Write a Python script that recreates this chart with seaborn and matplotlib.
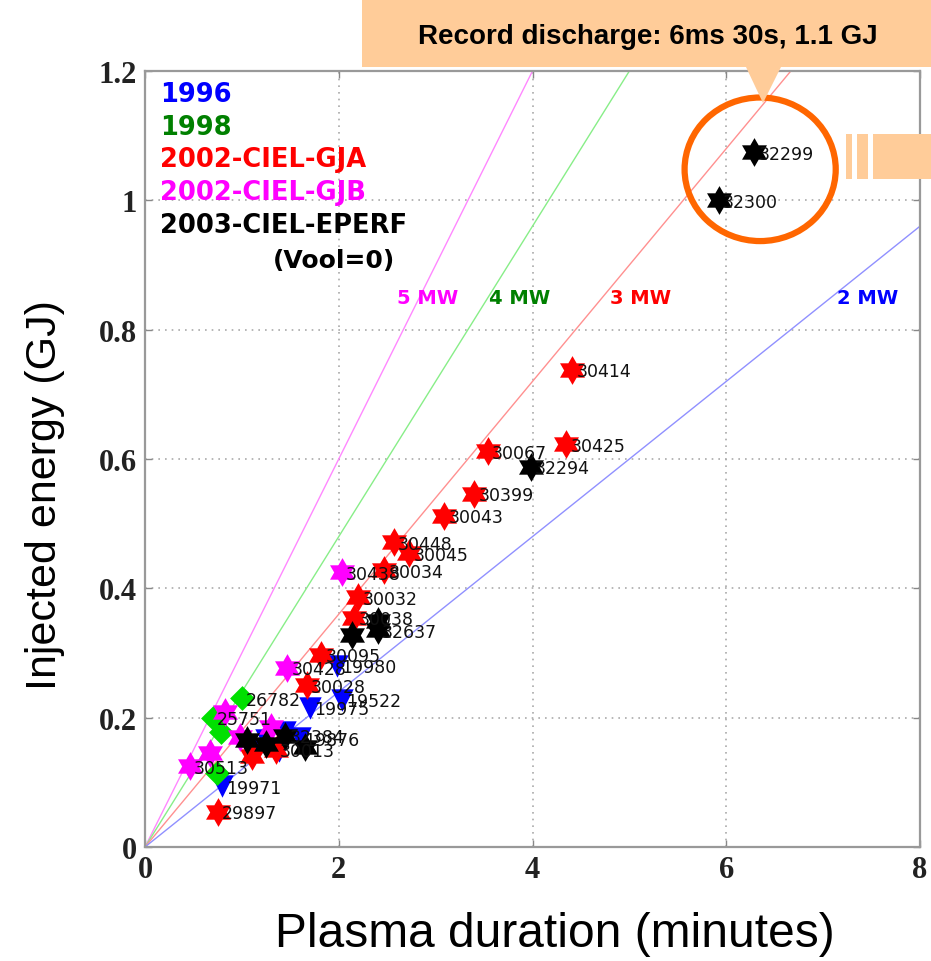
import matplotlib
matplotlib.use("Agg")
import matplotlib.pyplot as plt
from matplotlib.patches import Rectangle, Polygon, Ellipse
from matplotlib.path import Path
import seaborn as sns
import pandas as pd

# ---- Campaign data: plasma duration (min) vs injected energy (GJ) ----
t_1996 = [0.79, 1.70, 2.03, 1.98, 1.25, 1.45, 1.60, 1.15, 1.38]
e_1996 = [0.094, 0.215, 0.228, 0.280, 0.165, 0.178, 0.168, 0.150, 0.148]
lab_1996 = ["19971", "19975", "19522", "19980", "", "", "19876", "", ""]

t_1998 = [1.00, 0.70, 0.78, 0.74]
e_1998 = [0.230, 0.200, 0.178, 0.115]
lab_1998 = ["26782", "25751", "", ""]

t_gja = [4.41, 4.35, 3.54, 3.40, 3.09, 2.57, 2.73, 2.47, 2.20, 2.16,
         1.82, 1.67, 0.75, 1.35, 1.10]
e_gja = [0.738, 0.623, 0.612, 0.546, 0.512, 0.471, 0.454, 0.428, 0.386, 0.354,
         0.297, 0.250, 0.054, 0.150, 0.140]
lab_gja = ["30414", "30425", "30067", "30399", "30043", "30448", "30045", "30034",
           "30032", "30038", "30095", "30028", "29897", "30013", ""]

t_gjb = [2.03, 1.47, 0.83, 0.98, 0.67, 0.46, 1.30]
e_gjb = [0.425, 0.277, 0.208, 0.170, 0.146, 0.125, 0.185]
lab_gjb = ["30438", "30428", "", "", "", "30513", ""]

t_eperf = [6.29, 5.92, 3.98, 2.40, 2.40, 2.14, 1.25, 1.45, 1.65, 1.05]
e_eperf = [1.074, 1.000, 0.588, 0.350, 0.335, 0.328, 0.160, 0.172, 0.155, 0.165]
lab_eperf = ["32299", "32300", "32294", "", "32637", "", "", "32384", "", ""]

groups = ["1996", "1998", "2002-CIEL-GJA", "2002-CIEL-GJB", "2003-CIEL-EPERF"]
group_text_colors = ["#0000ff", "#008000", "#ff0000", "#ff00ff", "#000000"]
group_marker_colors = ["#0000ff", "#00e000", "#ff0000", "#ff00ff", "#000000"]

# constant-power reference lines (MW)
powers_mw = [5, 4, 3, 2]
power_colors = ["#ff88ff", "#88ee88", "#ff9090", "#9090ff"]
power_text_colors = ["#ff00ff", "#008000", "#ff0000", "#0000ff"]

x_ticks = [0, 2, 4, 6, 8]
y_ticks = [0, 0.2, 0.4, 0.6, 0.8, 1.0, 1.2]
y_tick_labels = ["0", "0.2", "0.4", "0.6", "0.8", "1", "1.2"]

frames = []
for g, t, e, lab in zip(groups,
                        [t_1996, t_1998, t_gja, t_gjb, t_eperf],
                        [e_1996, e_1998, e_gja, e_gjb, e_eperf],
                        [lab_1996, lab_1998, lab_gja, lab_gjb, lab_eperf]):
    frames.append(pd.DataFrame({"t": t, "E": e, "shot": lab, "group": g}))
df = pd.concat(frames, ignore_index=True)

sns.set_theme(style="white")
plt.rcParams["font.family"] = ["DejaVu Sans"]

W, H = 931, 962
fig = plt.figure(figsize=(W / 100, H / 100), dpi=100)
ax = fig.add_axes([145 / W, (H - 848) / H, (920 - 145) / W, (848 - 72) / H])
ax.set_xlim(0, 8)
ax.set_ylim(0, 1.2)

# dotted grid
for xv in x_ticks[1:-1]:
    ax.axvline(xv, color="#aaaaaa", ls=(0, (1, 3)), lw=1.2, zorder=0)
for yv in y_ticks[1:-1]:
    ax.axhline(yv, color="#aaaaaa", ls=(0, (1, 3)), lw=1.2, zorder=0)

# constant-power lines: E = P * 60 s * t
for p, c in zip(powers_mw, power_colors):
    slope = p * 60 / 1000.0
    ax.plot([0, 8], [0, 8 * slope], color=c, lw=1.0, zorder=1)

hexagram = Path.unit_regular_star(6, 0.577)
marker_map = {"1996": "v", "1998": "D", "2002-CIEL-GJA": hexagram,
              "2002-CIEL-GJB": hexagram, "2003-CIEL-EPERF": hexagram}
size_map = {"1996": 260, "1998": 160, "2002-CIEL-GJA": 430,
            "2002-CIEL-GJB": 430, "2003-CIEL-EPERF": 430}

for g, c in zip(groups, group_marker_colors):
    sub = df[df["group"] == g]
    sns.scatterplot(data=sub, x="t", y="E", color=c, marker=marker_map[g],
                    s=size_map[g], linewidth=0, ax=ax, zorder=3, legend=False)

for _, row in df.iterrows():
    if row["shot"]:
        ax.annotate(row["shot"], (row["t"], row["E"]), xytext=(3, -1),
                    textcoords="offset points", ha="left", va="center",
                    fontsize=12.5, color="#111111", zorder=4)

# campaign legend as coloured text
leg_y = [0.970, 0.928, 0.886, 0.844, 0.802]
for g, c, yy in zip(groups, group_text_colors, leg_y):
    ax.text(0.019, yy, g, transform=ax.transAxes, color=c, fontsize=18.5,
            fontweight="bold", va="center", ha="left")
ax.text(0.165, 0.756, "(Vool=0)", transform=ax.transAxes, color="black",
        fontsize=18, fontweight="bold", va="center", ha="left")

mw_x = [0.325, 0.444, 0.600, 0.893]
for p, c, xx in zip(powers_mw, power_text_colors, mw_x):
    ax.text(xx, 0.708, f"{p} MW", transform=ax.transAxes, color=c,
            fontsize=14, fontweight="bold", va="center", ha="left")

# axes styling
ax.set_xticks(x_ticks)
ax.set_yticks(y_ticks)
ax.set_yticklabels(y_tick_labels)
for lbl in ax.get_xticklabels() + ax.get_yticklabels():
    lbl.set_fontfamily("Liberation Serif")
    lbl.set_fontweight("bold")
    lbl.set_fontsize(22)
    lbl.set_color("#222222")
ax.tick_params(direction="in", length=5, width=1, color="#888888",
               top=True, right=True, bottom=True, left=True, pad=6)
for sp in ax.spines.values():
    sp.set_color("#999999")
    sp.set_linewidth(1.6)
    sp.set_visible(True)

ax.set_xlabel("Plasma duration (minutes)", fontfamily="Liberation Sans",
              fontsize=34.5, color="black", va="center")
ax.set_ylabel("Injected energy (GJ)", fontfamily="Liberation Sans",
              fontsize=31, color="black", va="center")
ax.xaxis.set_label_coords(0.529, -0.112)
ax.yaxis.set_label_coords(-0.129, 0.455)

# record-discharge callout
orange_fill = "#ffcc99"
fig.patches.append(Rectangle((362 / W, 1 - 68 / H), (W - 362) / W, 68 / H,
                             transform=fig.transFigure, facecolor=orange_fill,
                             edgecolor="none", zorder=5))
fig.patches.append(Polygon([(746 / W, 1 - 68 / H), (781 / W, 1 - 68 / H),
                            (763 / W, 1 - 104 / H)], closed=True,
                           transform=fig.transFigure, facecolor=orange_fill,
                           edgecolor="none", zorder=5))
for x0, x1 in [(846, 852), (857, 868), (873, 931)]:
    fig.patches.append(Rectangle((x0 / W, 1 - 180 / H), (x1 - x0) / W, 45 / H,
                                 transform=fig.transFigure, facecolor=orange_fill,
                                 edgecolor="none", zorder=5))
fig.text(648 / W, 1 - 37 / H, "Record discharge: 6ms 30s, 1.1 GJ",
         fontfamily="Liberation Sans", fontweight="bold", fontsize=20,
         ha="center", va="center", color="black", zorder=6)

ax.add_patch(Ellipse((6.35, 1.048), 1.56, 0.222, facecolor="none",
                     edgecolor="#ff6600", lw=4.5, zorder=6, clip_on=False))

fig.savefig("out.png", dpi=100)
